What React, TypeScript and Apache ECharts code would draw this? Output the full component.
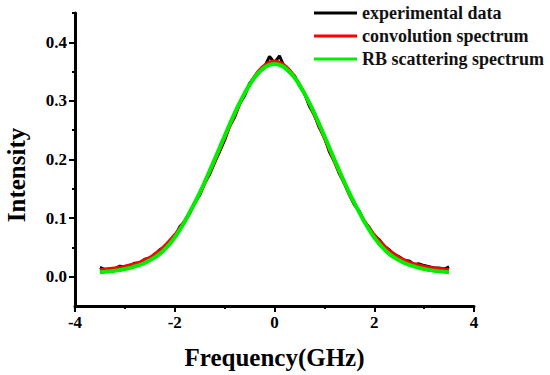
import React, { useEffect, useRef } from "react";
import * as echarts from "echarts";

const freq = [
  -3.5, -3.4, -3.3, -3.2, -3.1, -3.0, -2.9, -2.8, -2.7, -2.6, -2.5, -2.4, -2.3, -2.2, -2.1, -2.0,
  -1.9, -1.8, -1.7, -1.6, -1.5, -1.4, -1.3, -1.2, -1.1, -1.0, -0.9, -0.8, -0.7, -0.6, -0.5, -0.4,
  -0.3, -0.2, -0.1, 0.0, 0.1, 0.2, 0.3, 0.4, 0.5, 0.6, 0.7, 0.8, 0.9, 1.0, 1.1, 1.2, 1.3, 1.4,
  1.5, 1.6, 1.7, 1.8, 1.9, 2.0, 2.1, 2.2, 2.3, 2.4, 2.5, 2.6, 2.7, 2.8, 2.9, 3.0, 3.1, 3.2, 3.3,
  3.4, 3.5,
];

const experimental = [
  0.016, 0.012, 0.013, 0.014, 0.018, 0.017, 0.019, 0.023, 0.024, 0.03, 0.032, 0.038, 0.046, 0.051,
  0.06, 0.068, 0.085, 0.094, 0.108, 0.127, 0.139, 0.16, 0.175, 0.195, 0.214, 0.233, 0.257, 0.272,
  0.295, 0.309, 0.33, 0.341, 0.35, 0.358, 0.376, 0.365, 0.377, 0.357, 0.349, 0.343, 0.326, 0.313,
  0.291, 0.276, 0.254, 0.238, 0.213, 0.197, 0.176, 0.16, 0.14, 0.123, 0.112, 0.094, 0.084, 0.07,
  0.063, 0.052, 0.046, 0.038, 0.034, 0.028, 0.027, 0.021, 0.022, 0.019, 0.017, 0.015, 0.015, 0.013,
  0.017,
];

const convolution = [
  0.012, 0.013, 0.014, 0.015, 0.016, 0.018, 0.02, 0.022, 0.025, 0.029, 0.033, 0.039, 0.045, 0.053,
  0.062, 0.072, 0.083, 0.096, 0.11, 0.125, 0.141, 0.159, 0.177, 0.196, 0.216, 0.236, 0.256, 0.275,
  0.294, 0.312, 0.328, 0.342, 0.353, 0.361, 0.366, 0.368, 0.366, 0.361, 0.353, 0.342, 0.328, 0.312,
  0.294, 0.275, 0.256, 0.236, 0.216, 0.196, 0.177, 0.159, 0.141, 0.125, 0.11, 0.096, 0.083, 0.072,
  0.062, 0.053, 0.045, 0.039, 0.033, 0.029, 0.025, 0.022, 0.02, 0.018, 0.016, 0.015, 0.014, 0.013,
  0.012,
];

const rbScattering = [
  0.0075, 0.0083, 0.0092, 0.0102, 0.0115, 0.013, 0.015, 0.0175, 0.02, 0.0235, 0.028, 0.033, 0.039,
  0.047, 0.056, 0.067, 0.08, 0.094, 0.11, 0.126, 0.143, 0.1615, 0.1806, 0.2002, 0.2202, 0.2401,
  0.2598, 0.2786, 0.2965, 0.3128, 0.3273, 0.3398, 0.3497, 0.357, 0.3615, 0.363, 0.3615, 0.357,
  0.3497, 0.3398, 0.3273, 0.3128, 0.2965, 0.2786, 0.2598, 0.2401, 0.2202, 0.2002, 0.1806, 0.1615,
  0.143, 0.126, 0.11, 0.094, 0.08, 0.067, 0.056, 0.047, 0.039, 0.033, 0.028, 0.0235, 0.02, 0.0175,
  0.015, 0.013, 0.0115, 0.0102, 0.0092, 0.0083, 0.0075,
];

const yMajorTicks = [0, 0.1, 0.2, 0.3, 0.4];
const yMinorTicks = [0.05, 0.15, 0.25, 0.35, 0.45];

const FONT = "Liberation Serif";

export default function App() {
  const ref = useRef<HTMLDivElement>(null);

  useEffect(() => {
    if (!ref.current) return;
    const chart = echarts.init(ref.current, undefined, { renderer: "svg" });
    const pairs = (ys: number[]) => freq.map((x, i) => [x, ys[i]]);
    chart.setOption({
      animation: false,
      backgroundColor: "#ffffff",
      grid: { left: 75, right: 76, top: 13, bottom: 69, containLabel: false },
      graphic: [
        {
          type: "text",
          x: 16,
          y: 175,
          rotation: Math.PI / 2,
          style: {
            text: "Intensity",
            fontFamily: FONT,
            fontWeight: "bold",
            fontSize: 25,
            fill: "#000",
            textAlign: "center",
            textVerticalAlign: "middle",
          },
        },
      ],
      legend: {
        orient: "vertical",
        left: 314,
        top: 4,
        padding: 0,
        itemGap: 5,
        itemWidth: 43,
        itemHeight: 3,
        icon: "rect",
        textStyle: { fontFamily: FONT, fontWeight: "bold", fontSize: 18, color: "#111" },
        data: ["experimental data", "convolution spectrum", "RB scattering spectrum"],
      },
      xAxis: {
        type: "value",
        min: -4,
        max: 4,
        interval: 2,
        name: "Frequency(GHz)",
        nameLocation: "middle",
        nameGap: 39,
        nameTextStyle: { fontFamily: FONT, fontWeight: "bold", fontSize: 25, color: "#000" },
        axisLine: { show: true, onZero: false, lineStyle: { color: "#000", width: 3 } },
        axisTick: { show: true, length: 6, lineStyle: { color: "#000", width: 2 } },
        minorTick: { show: true, splitNumber: 2, length: 3, lineStyle: { color: "#000", width: 2 } },
        axisLabel: { fontFamily: FONT, fontWeight: "bold", fontSize: 17, color: "#000", margin: 8 },
        splitLine: { show: false },
        minorSplitLine: { show: false },
      },
      yAxis: [
        {
          type: "value",
          min: -0.05,
          max: 0.45,
          axisLine: { show: true, onZero: false, lineStyle: { color: "#000", width: 3 } },
          axisTick: {
            show: true,
            length: 6,
            customValues: yMajorTicks,
            lineStyle: { color: "#000", width: 2 },
          },
          axisLabel: {
            customValues: yMajorTicks,
            fontFamily: FONT,
            fontWeight: "bold",
            fontSize: 17,
            color: "#000",
            margin: 8,
            formatter: (v: number) => v.toFixed(1),
          },
          splitLine: { show: false },
        },
        {
          type: "value",
          min: -0.05,
          max: 0.45,
          position: "left",
          axisLine: { show: false, onZero: false },
          axisTick: {
            show: true,
            length: 3,
            customValues: yMinorTicks,
            lineStyle: { color: "#000", width: 2 },
          },
          axisLabel: { show: false },
          splitLine: { show: false },
        },
      ],
      series: [
        {
          name: "experimental data",
          type: "line",
          data: pairs(experimental),
          showSymbol: false,
          symbol: "none",
          lineStyle: { color: "#000", width: 3 },
          itemStyle: { color: "#000" },
        },
        {
          name: "convolution spectrum",
          type: "line",
          data: pairs(convolution),
          showSymbol: false,
          symbol: "none",
          smooth: true,
          lineStyle: { color: "#ff0000", width: 3 },
          itemStyle: { color: "#ff0000" },
        },
        {
          name: "RB scattering spectrum",
          type: "line",
          data: pairs(rbScattering),
          showSymbol: false,
          symbol: "none",
          smooth: true,
          lineStyle: { color: "#00ee00", width: 4 },
          itemStyle: { color: "#00ee00" },
        },
      ],
    });
    return () => chart.dispose();
  }, []);

  return (
    <div
      ref={ref}
      style={{ position: "absolute", left: 0, top: 0, width: 550, height: 375 }}
    />
  );
}
